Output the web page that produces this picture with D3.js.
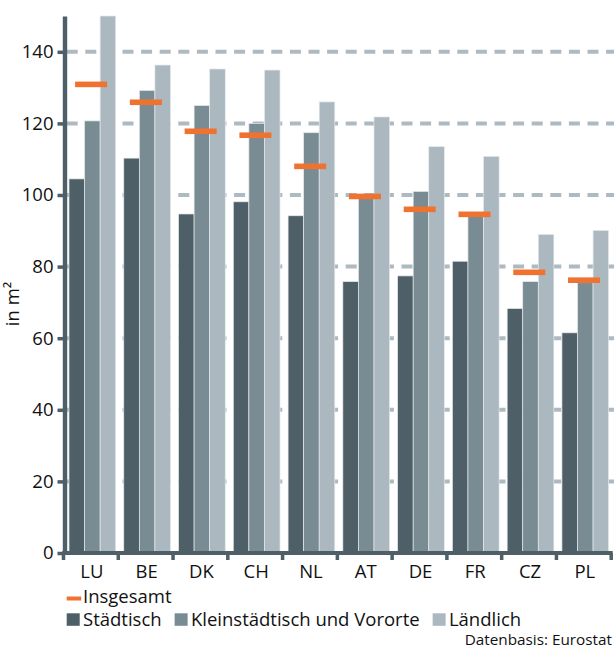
<!DOCTYPE html>
<html>
<head>
<meta charset="utf-8">
<script src="https://cdn.jsdelivr.net/npm/d3@7"></script>
<style>
  html, body { margin: 0; padding: 0; background: #fff; }
  svg { display: block; }
  text { font-family: "Open Sans", "Noto Sans", sans-serif; fill: #111; }
</style>
</head>
<body>
<svg id="chart" width="614" height="653"></svg>
<script>
const categories = ["LU", "BE", "DK", "CH", "NL", "AT", "DE", "FR", "CZ", "PL"];
const staedtisch = [104.5, 110.3, 94.7, 98.1, 94.2, 75.8, 77.4, 81.5, 68.3, 61.5];
const kleinstaedtisch = [120.7, 129.2, 125.0, 120.0, 117.4, 99.0, 101.0, 94.0, 75.8, 75.5];
const laendlich = [150.0, 136.3, 135.2, 134.9, 126.0, 121.8, 113.5, 110.8, 89.0, 90.1];
const insgesamt = [130.9, 125.9, 117.8, 116.7, 108.0, 99.6, 96.0, 94.6, 78.4, 76.2];
const seriesNames = ["Städtisch", "Kleinstädtisch und Vororte", "Ländlich"];
const yTicks = [0, 20, 40, 60, 80, 100, 120, 140];

const colors = ["#4e5f67", "#7a8c93", "#abb8bf"];
const orange = "#f07230";
const axisColor = "#4e5f67";
const gridColor = "#adbac1";

const svg = d3.select("#chart");

const y = d3.scaleLinear().domain([0, 150]).range([553, 16]);
const x = d3.scaleBand().domain(categories).range([63.5, 611.2]).padding(0);
const inner = d3.scaleBand().domain(seriesNames).range([5.5, 52.2]).padding(0);

// gridlines
svg.append("g").selectAll("line")
  .data(yTicks.filter(d => d > 0))
  .join("line")
  .attr("x1", 66.7).attr("x2", 614)
  .attr("y1", d => y(d)).attr("y2", d => y(d))
  .attr("stroke", gridColor).attr("stroke-width", 4)
  .attr("stroke-dasharray", "11,7.6");

// bars
const seriesData = [staedtisch, kleinstaedtisch, laendlich];
const bars = [];
categories.forEach((c, i) => {
  seriesNames.forEach((s, j) => {
    bars.push({ c, s, j, v: seriesData[j][i] });
  });
});
svg.append("g").selectAll("rect")
  .data(bars)
  .join("rect")
  .attr("x", d => x(d.c) + inner(d.s))
  .attr("width", inner.bandwidth())
  .attr("y", d => y(d.v))
  .attr("height", d => y(0) - y(d.v))
  .attr("fill", d => colors[d.j])
  .attr("stroke", "#e4e9eb")
  .attr("stroke-width", 0.7);

// Insgesamt markers
svg.append("g").selectAll("rect")
  .data(categories.map((c, i) => ({ c, v: insgesamt[i] })))
  .join("rect")
  .attr("x", d => x(d.c) + 11.6)
  .attr("width", 32)
  .attr("y", d => y(d.v) - 2.8)
  .attr("height", 5.6)
  .attr("fill", orange);

// Y axis
const yAxis = d3.axisLeft(y).tickValues(yTicks).tickSize(7).tickSizeOuter(0).tickPadding(4);
const gy = svg.append("g").attr("transform", "translate(64.5,0)").call(yAxis);
gy.select(".domain").attr("stroke", axisColor).attr("stroke-width", 4.4);
gy.selectAll(".tick line").attr("stroke", axisColor).attr("stroke-width", 3.5);
gy.selectAll(".tick text").style("font-size", "18.5px").attr("fill", "#111")
  .style("font-family", "'Open Sans', sans-serif");

// X axis
const gx = svg.append("g");
gx.append("line")
  .attr("x1", 62.3).attr("x2", 612.7)
  .attr("y1", y(0)).attr("y2", y(0))
  .attr("stroke", axisColor).attr("stroke-width", 4);
const boundaries = categories.map(c => x(c)).concat([x.range()[1]]);
gx.selectAll("line.b")
  .data(boundaries)
  .join("line")
  .attr("class", "b")
  .attr("x1", d => d).attr("x2", d => d)
  .attr("y1", y(0)).attr("y2", 560)
  .attr("stroke", axisColor).attr("stroke-width", 3.5);
gx.selectAll("text")
  .data(categories)
  .join("text")
  .attr("x", d => x(d) + x.bandwidth() / 2 + 1)
  .attr("y", 578)
  .attr("text-anchor", "middle")
  .style("font-size", "18.5px")
  .text(d => d);

// Y axis title
svg.append("text")
  .attr("transform", "translate(19,304) rotate(-90)")
  .attr("text-anchor", "middle")
  .style("font-size", "18.5px")
  .text("in m²");

// Legend
const leg = svg.append("g");
leg.append("rect").attr("x", 66.7).attr("y", 596.5).attr("width", 14.5).attr("height", 4).attr("fill", orange);
leg.append("text").attr("x", 83).attr("y", 603).style("font-size", "18.5px").text("Insgesamt");

let lx = 66.7;
seriesNames.forEach((s, j) => {
  leg.append("rect").attr("x", lx).attr("y", 613.3).attr("width", 13).attr("height", 12.5).attr("fill", colors[j]);
  const t = leg.append("text").attr("x", lx + 16.3).attr("y", 626).style("font-size", "18.5px").text(s);
  lx = lx + 16.3 + t.node().getComputedTextLength() + 13;
});

// Source
svg.append("text")
  .attr("x", 612).attr("y", 644.5)
  .attr("text-anchor", "end")
  .style("font-size", "15.3px")
  .text("Datenbasis: Eurostat");
</script>
</body>
</html>
